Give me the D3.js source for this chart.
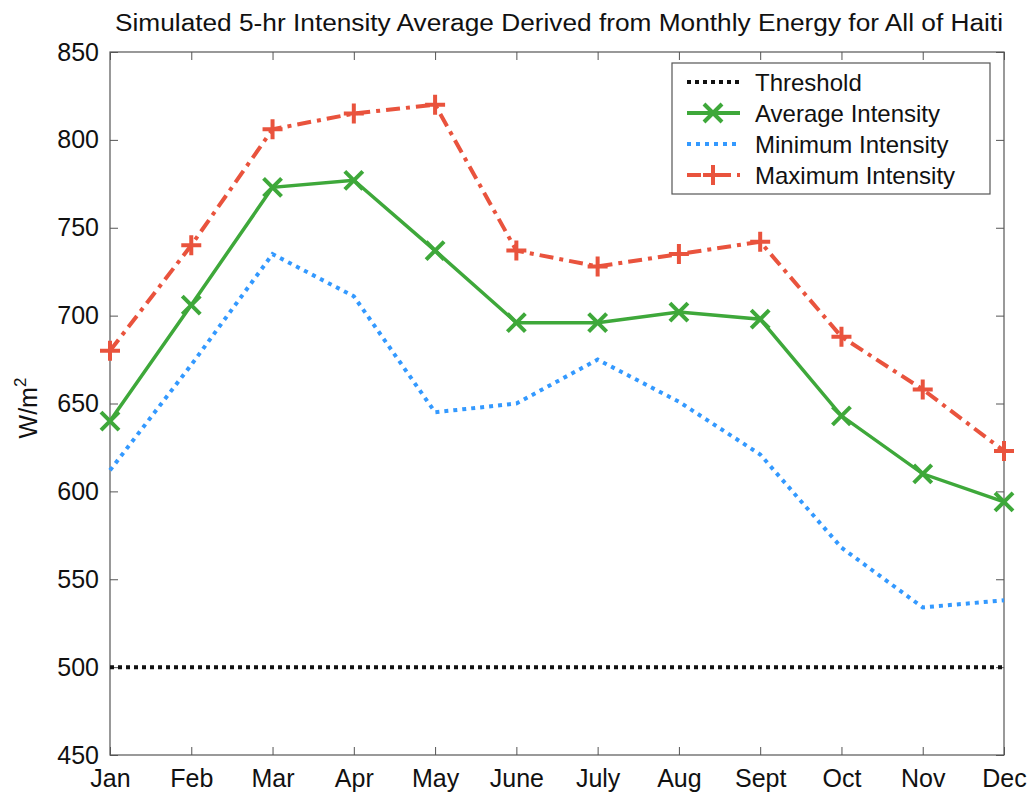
<!DOCTYPE html>
<html><head><meta charset="utf-8">
<script src="https://cdn.jsdelivr.net/npm/d3@7"></script>
<style>body{margin:0;background:#fff}svg{display:block}text{font-family:"Liberation Sans",Arial,sans-serif;fill:#111}</style>
</head><body>
<script>
const months = ["Jan","Feb","Mar","Apr","May","June","July","Aug","Sept","Oct","Nov","Dec"];
const threshold = [500,500,500,500,500,500,500,500,500,500,500,500];
const avgIntensity = [640,706,773,777,737,696,696,702,698,643,610,594];
const minIntensity = [612,672,735,711,645,650,675,651,621,568,534,538];
const maxIntensity = [680,740,806,815,820,737,728,735,742,688,658,623];
const yTicks = [450,500,550,600,650,700,750,800,850];
const title = "Simulated 5-hr Intensity Average Derived from Monthly Energy for All of Haiti";
const yLabel = "W/m";

const W=1033,H=794, L=110,R=1004,T=52,B=755;
const svg=d3.select("body").append("svg").attr("width",W).attr("height",H);
const x=d3.scalePoint().domain(months).range([L,R]);
const y=d3.scaleLinear().domain([450,850]).range([B,T]);

svg.append("rect").attr("x",L).attr("y",T).attr("width",R-L).attr("height",B-T).attr("fill","none").attr("stroke","#555").attr("stroke-width",1.2);
const ax=svg.append("g").attr("transform",`translate(0,${B})`).call(d3.axisBottom(x).tickSizeInner(-8).tickSizeOuter(0).tickPadding(12));
ax.select(".domain").remove();
ax.selectAll("line").attr("stroke","#555");
ax.selectAll("text").attr("font-size",25).attr("dy","0.8em");
const axt=svg.append("g").attr("transform",`translate(0,${T})`).call(d3.axisTop(x).tickSizeInner(-8).tickSizeOuter(0).tickFormat(""));
axt.select(".domain").remove(); axt.selectAll("line").attr("stroke","#555");
const ay=svg.append("g").attr("transform",`translate(${L},0)`).call(d3.axisLeft(y).tickValues(yTicks).tickSizeInner(-8).tickSizeOuter(0).tickPadding(11));
ay.select(".domain").remove(); ay.selectAll("line").attr("stroke","#555");
ay.selectAll("text").attr("font-size",25);
const ayr=svg.append("g").attr("transform",`translate(${R},0)`).call(d3.axisRight(y).tickValues(yTicks).tickSizeInner(-8).tickSizeOuter(0).tickFormat(""));
ayr.select(".domain").remove(); ayr.selectAll("line").attr("stroke","#555");

svg.append("text").attr("x",(L+R)/2+2).attr("y",31).attr("text-anchor","middle").attr("font-size",23)
  .attr("textLength",888).attr("lengthAdjust","spacingAndGlyphs").text(title);
const yl=svg.append("text").attr("transform",`translate(37,${408}) rotate(-90)`).attr("text-anchor","middle").attr("font-size",25);
yl.append("tspan").text(yLabel);
yl.append("tspan").attr("font-size",17).attr("dy",-11).text("2");

const line=d3.line().x((d,i)=>x(months[i])).y(d=>y(d));
const cRed="#e9533d", cGreen="#3ea83a", cBlue="#3399ff";
const g=svg.append("g");
g.append("path").datum(threshold).attr("d",line).attr("fill","none").attr("stroke","#111").attr("stroke-width",4).attr("stroke-dasharray","4 4");
g.append("path").datum(minIntensity).attr("d",line).attr("fill","none").attr("stroke",cBlue).attr("stroke-width",4).attr("stroke-dasharray","4 5");
g.append("path").datum(maxIntensity).attr("d",line).attr("fill","none").attr("stroke",cRed).attr("stroke-width",4).attr("stroke-dasharray","14 6 4 6");
g.append("path").datum(avgIntensity).attr("d",line).attr("fill","none").attr("stroke",cGreen).attr("stroke-width",3.5);

function plusM(sel,cx,cy,s,c){sel.append("path").attr("d",`M${cx-s},${cy}H${cx+s}M${cx},${cy-s}V${cy+s}`).attr("stroke",c).attr("stroke-width",4).attr("fill","none");}
function xM(sel,cx,cy,s,c){sel.append("path").attr("d",`M${cx-s},${cy-s}L${cx+s},${cy+s}M${cx-s},${cy+s}L${cx+s},${cy-s}`).attr("stroke",c).attr("stroke-width",4).attr("fill","none");}
maxIntensity.forEach((d,i)=>plusM(g,x(months[i]),y(d),10,cRed));
avgIntensity.forEach((d,i)=>xM(g,x(months[i]),y(d),9,cGreen));

const lg=svg.append("g");
lg.append("rect").attr("x",672).attr("y",63).attr("width",318).attr("height",131).attr("fill","#fff").attr("stroke","#555").attr("stroke-width",1.2);
const items=[
 {name:"Threshold",c:"#111",dash:"4 4",m:null},
 {name:"Average Intensity",c:cGreen,dash:null,m:"x"},
 {name:"Minimum Intensity",c:cBlue,dash:"4 5",m:null},
 {name:"Maximum Intensity",c:cRed,dash:"14 6 4 6",m:"+"}];
items.forEach((it,i)=>{
  const yy=82+i*31;
  lg.append("line").attr("x1",687).attr("x2",740).attr("y1",yy).attr("y2",yy).attr("stroke",it.c).attr("stroke-width",4).attr("stroke-dasharray",it.dash);
  if(it.m==="x") xM(lg,713,yy,9,it.c);
  if(it.m==="+") plusM(lg,713,yy,10,it.c);
  lg.append("text").attr("x",755).attr("y",yy+9).attr("font-size",24).text(it.name);
});
</script>
</body></html>
